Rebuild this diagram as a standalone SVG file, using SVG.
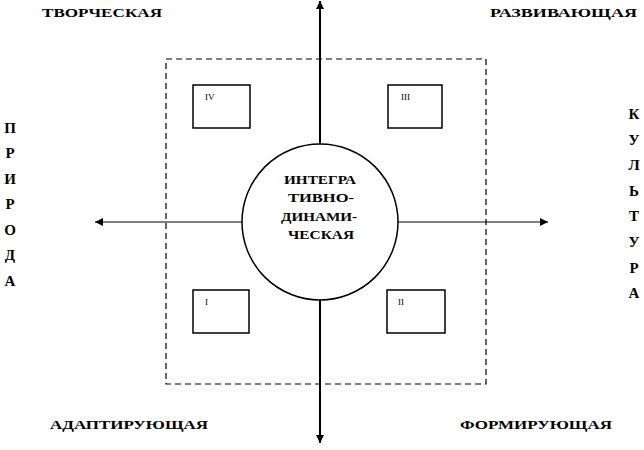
<svg xmlns="http://www.w3.org/2000/svg" width="644" height="450" viewBox="0 0 644 450">
<defs>
<marker id="ah" viewBox="0 0 10 10" refX="10" refY="5" markerWidth="8" markerHeight="8" markerUnits="userSpaceOnUse" orient="auto">
<path d="M0,0 L10,5 L0,10 Z" fill="#000"/>
</marker>
</defs>
<style>
.lbl{font-family:"Liberation Serif","Times New Roman",serif;font-weight:bold;font-size:13px;fill:#000}
.side{font-family:"Liberation Serif","Times New Roman",serif;font-weight:bold;font-size:15px;fill:#000;text-anchor:middle}
.ctr{font-family:"Liberation Serif","Times New Roman",serif;font-weight:bold;font-size:12px;fill:#000;text-anchor:middle}
.box{fill:#fff;stroke:#000;stroke-width:1.5}
.num{font-family:"Liberation Serif","Times New Roman",serif;font-size:9px;fill:#000}
</style>
<rect width="644" height="450" fill="#fff"/>
<g id="frame">
<rect x="166" y="59" width="320" height="325" fill="none" stroke="#000" stroke-width="1.2" stroke-dasharray="6,4"/>
</g>
<g id="connectors" stroke="#000" stroke-width="2" fill="none">
<line x1="320" y1="144" x2="320" y2="1" marker-end="url(#ah)"/>
<line x1="320" y1="300" x2="320" y2="443" marker-end="url(#ah)"/>
<line x1="242" y1="222" x2="95" y2="222" stroke-width="1.2" marker-end="url(#ah)"/>
<line x1="398" y1="222" x2="548" y2="222" stroke-width="1.2" marker-end="url(#ah)"/>
</g>
<g id="center">
<circle cx="320" cy="222" r="78" fill="#fff" stroke="#000" stroke-width="1.5"/>
<text class="ctr" x="320" y="184" textLength="72" lengthAdjust="spacingAndGlyphs">ИНТЕГРА</text>
<text class="ctr" x="321" y="202" textLength="66" lengthAdjust="spacingAndGlyphs">ТИВНО-</text>
<text class="ctr" x="319" y="221" textLength="76" lengthAdjust="spacingAndGlyphs">ДИНАМИ-</text>
<text class="ctr" x="321" y="239" textLength="66" lengthAdjust="spacingAndGlyphs">ЧЕСКАЯ</text>
</g>
<g id="box-IV"><rect class="box" x="193" y="85" width="57" height="43"/><text class="num" x="205" y="100">IV</text></g>
<g id="box-III"><rect class="box" x="388" y="85" width="54" height="43"/><text class="num" x="401" y="100">III</text></g>
<g id="box-I"><rect class="box" x="193" y="290" width="56" height="43"/><text class="num" x="205" y="305">I</text></g>
<g id="box-II"><rect class="box" x="387" y="290" width="58" height="43"/><text class="num" x="398" y="305">II</text></g>
<g id="labels">
<text class="lbl" x="42" y="17" textLength="120" lengthAdjust="spacingAndGlyphs">ТВОРЧЕСКАЯ</text>
<text class="lbl" x="490" y="17" textLength="147" lengthAdjust="spacingAndGlyphs">РАЗВИВАЮЩАЯ</text>
<text class="lbl" x="50" y="429" textLength="158" lengthAdjust="spacingAndGlyphs">АДАПТИРУЮЩАЯ</text>
<text class="lbl" x="460" y="429" textLength="152" lengthAdjust="spacingAndGlyphs">ФОРМИРУЮЩАЯ</text>
</g>
<g id="priroda">
<text class="side" x="10" y="133">П</text>
<text class="side" x="10" y="158">Р</text>
<text class="side" x="10" y="184">И</text>
<text class="side" x="10" y="209">Р</text>
<text class="side" x="10" y="235">О</text>
<text class="side" x="10" y="260">Д</text>
<text class="side" x="10" y="286">А</text>
</g>
<g id="kultura">
<text class="side" x="634" y="119">К</text>
<text class="side" x="634" y="145">У</text>
<text class="side" x="634" y="170">Л</text>
<text class="side" x="634" y="196">Ь</text>
<text class="side" x="634" y="221">Т</text>
<text class="side" x="634" y="247">У</text>
<text class="side" x="634" y="273">Р</text>
<text class="side" x="634" y="298">А</text>
</g>
</svg>
